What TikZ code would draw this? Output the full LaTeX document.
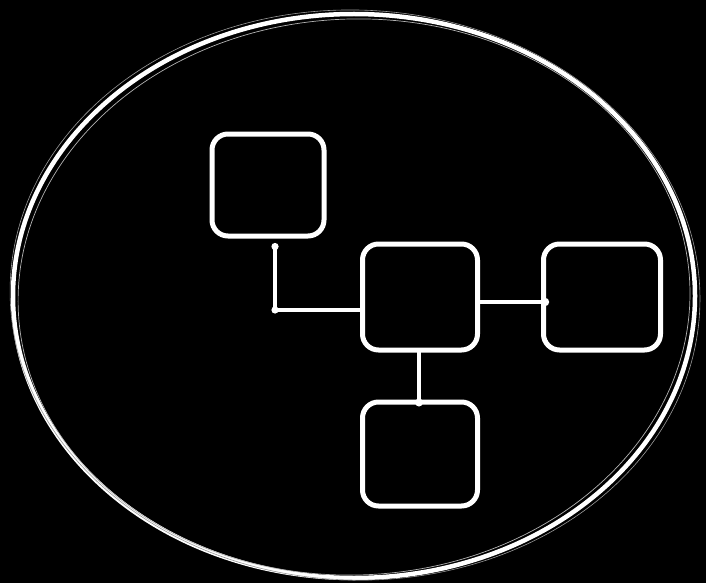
\documentclass[tikz,border=0pt]{standalone}
\begin{document}
\begin{tikzpicture}[x=1pt,y=-1pt,
  box/.style={draw=white,line width=5pt,rounded corners=16pt,inner sep=0pt,fill=black},
  link/.style={draw=white,line width=3.4pt,line cap=round},
  jdot/.style={fill=white}]
\fill[black] (0,0) rectangle (706,583);
\useasboundingbox (0,0) rectangle (706,583);
% outer sketchy ellipse
\draw[white,line width=4.5pt] (354,296) ellipse [x radius=341, y radius=282];
\draw[white!70!black,line width=0.7pt,rotate around={2:(354,296)}] (354,297) ellipse [x radius=336, y radius=278];
\draw[white!60!black,line width=0.6pt,rotate around={-2:(354,296)}] (355,295) ellipse [x radius=345, y radius=285];
% boxes
\node[box,minimum width=112pt,minimum height=102pt] (A) at (268,185) {};
\node[box,minimum width=115pt,minimum height=106pt] (B) at (420,297) {};
\node[box,minimum width=117pt,minimum height=106pt] (C) at (602,297) {};
\node[box,minimum width=115pt,minimum height=104pt] (D) at (420,454) {};
% connectors
\coordinate (Astem) at ([xshift=7pt,yshift=-8pt]A.south);
\coordinate (Bin) at ([yshift=-13pt]B.west);
\coordinate (corner) at (Astem |- Bin);
\draw[link] (Astem) -- (corner) -- (Bin);
\fill[jdot] (Astem) circle (3.6pt);
\fill[jdot] (corner) circle (3.6pt);
\coordinate (Bout) at ([yshift=-5pt]B.east);
\coordinate (Cin) at ([xshift=4pt]C.west |- Bout);
\draw[link] (Bout) -- (Cin);
\fill[jdot] (Cin) circle (4.2pt);
\coordinate (Bdown) at ([xshift=-1pt]B.south);
\coordinate (Din) at ([yshift=-3pt]Bdown |- D.north);
\draw[link] (Bdown) -- (Din);
\fill[jdot] (Din) circle (4pt);
\end{tikzpicture}
\end{document}
